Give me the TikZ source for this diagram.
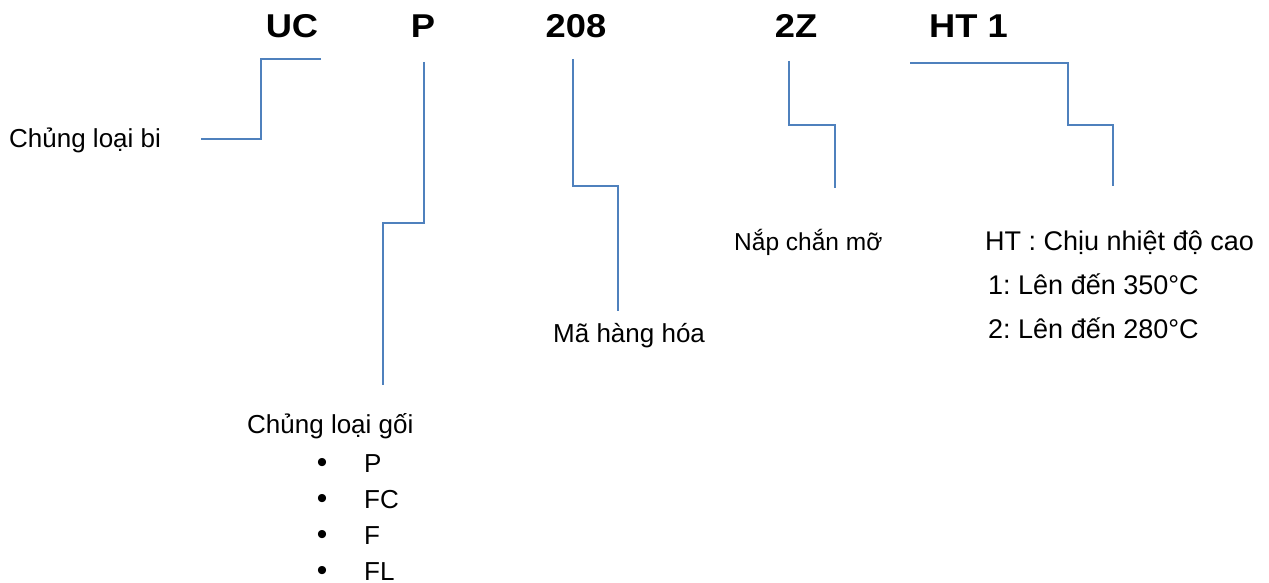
\documentclass[tikz,border=0pt]{standalone}
\usepackage{fontspec}
\setmainfont{Liberation Sans}
\newfontfamily\hdrfont{Liberation Sans}[FakeStretch=1.1]
\frenchspacing
\begin{document}
\begin{tikzpicture}[x=1pt,y=-1pt,
  conn/.style={draw=lineblue, line width=1.5pt},
  hdr/.style={inner sep=0pt, anchor=base, font=\hdrfont\bfseries\fontsize{33}{36}\selectfont},
  lbl/.style={inner sep=0pt, anchor=base west, font=\fontsize{26}{30}\selectfont}]
\definecolor{lineblue}{RGB}{79,129,189}
\useasboundingbox (0,0) rectangle (1269,583);
% header codes
\node[hdr] (uc) at (292,38) {UC};
\node[hdr] (p) at (423,38) {P};
\node[hdr] (num) at (576,38) {208};
\node[hdr] (z) at (796,38) {2Z};
\node[hdr, anchor=base west] (ht) at (929,38) {HT 1};
% labels
\node[lbl] (bi) at (9,148) {Chủng loại bi};
\node[lbl] (goi) at (247,433) {Chủng loại gối};
\node[lbl] (b1) at (364,472) {P};
\node[lbl] (b2) at (364,508) {FC};
\node[lbl] (b3) at (364,544) {F};
\node[lbl] (b4) at (364,580) {FL};
\foreach \n/\yy in {1/472,2/508,3/544,4/580}
  \node[lbl, anchor=base, font=\fontsize{30}{30}\selectfont] (d\n) at (322,\yy) {•};
\node[lbl] (ma) at (553,342) {Mã hàng hóa};
\node[lbl, font=\fontsize{24.5}{30}\selectfont] (nap) at (734,250) {Nắp chắn mỡ};
\node[lbl, font=\fontsize{27}{30}\selectfont] (ht0) at (985,250) {HT : Chịu nhiệt độ cao};
\node[lbl, font=\fontsize{27}{30}\selectfont] (ht1) at (988,294) {1: Lên đến 350°C};
\node[lbl, font=\fontsize{27}{30}\selectfont] (ht2) at (988,338) {2: Lên đến 280°C};
% connector ends
\coordinate (ucA) at (321,59);
\coordinate (ucB) at (201,139);
\coordinate (pA) at (424,62);
\coordinate (pB) at (383,385);
\coordinate (nA) at (573,59);
\coordinate (nB) at (618,311);
\coordinate (zA) at (789,61);
\coordinate (zB) at (835,188);
\coordinate (hA) at (910,63);
\coordinate (hB) at (1113,186);
% connectors
\draw[conn] (ucA) -- (261,59) -- (261,139) -- (ucB);
\draw[conn] (pA) -- (424,223) -- (383,223) -- (pB);
\draw[conn] (nA) -- (573,186) -- (618,186) -- (nB);
\draw[conn] (zA) -- (789,125) -- (835,125) -- (zB);
\draw[conn] (hA) -- (1068,63) -- (1068,125) -- (1113,125) -- (hB);
\end{tikzpicture}
\end{document}
